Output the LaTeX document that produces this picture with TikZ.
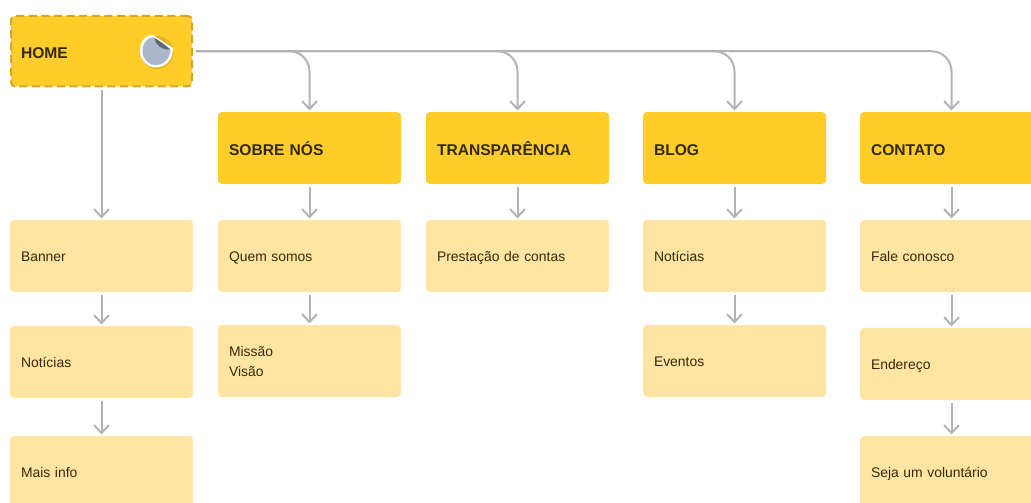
\documentclass[tikz,border=0pt]{standalone}
\usepackage{fontspec}
\setmainfont{Liberation Sans}
\usetikzlibrary{arrows.meta}
\definecolor{headfill}{HTML}{FFCD29}
\definecolor{itemfill}{HTML}{FFE5A1}
\definecolor{inkbrown}{HTML}{33290C}
\definecolor{linkgray}{HTML}{B3B3B3}
\definecolor{dashgold}{HTML}{D3A826}
\definecolor{stickerblue}{HTML}{ABB6CB}
\definecolor{stickerfold}{HTML}{5F6670}
\tikzset{
  box/.style={anchor=north west,minimum width=183pt,minimum height=72pt,text width=161pt,outer sep=0pt,
    inner xsep=11pt,inner ysep=0pt,align=left,rounded corners=4pt,text=inkbrown},
  head/.style={box,fill=headfill,font=\fontsize{15.6}{20}\selectfont\bfseries,
    execute at begin node=\rule[-3pt]{0pt}{20pt}},
  item/.style={box,fill=itemfill,font=\fontsize{13.9}{20}\selectfont,
    execute at begin node=\rule[-5pt]{0pt}{20pt},execute at end node=\rule[-3.6pt]{0pt}{3.6pt}},
  link/.style={draw=linkgray,line width=2pt,shorten <=2.5pt,shorten >=1.5pt,
    -{Straight Barb[length=8pt,width=15pt,line width=2pt]}},
}
\begin{document}
\begin{tikzpicture}[x=1pt,y=-1pt]
\useasboundingbox (0,0) rectangle (1031,503);
\clip (0,0) rectangle (1031,503);
% heads
\node[head,draw=dashgold,line width=2pt,dash pattern=on 8pt off 4.6pt,minimum width=181pt,minimum height=70.5pt,text width=161pt,inner xsep=10pt] (HOME) at (11,16) {HOME};
\foreach \n/\x/\t in {S/218/SOBRE NÓS,T/426/TRANSPARÊNCIA,B/643/BLOG,C/860/CONTATO} {
  \node[head] (\n0) at (\x,112) {\t};
  \draw[link,rounded corners=20pt,shorten <=4pt] (HOME.east) -| (\n0.north);
}
% items
\foreach \n/\x/\y/\t in {H1/10/220/Banner,H2/10/326/Notícias,H3/10/436/Mais info,
  S1/218/220/Quem somos,S2/218/325/Missão\\Visão,T1/426/220/Prestação de contas,
  B1/643/220/Notícias,B2/643/325/Eventos,
  C1/860/220/Fale conosco,C2/860/328/Endereço,C3/860/436/Seja um voluntário} {
  \node[item] (\n) at (\x,\y) {\t};
}
\draw[link,shorten <=3.5pt] (HOME) -- (H1);
\foreach \a/\b in {H1/H2,H2/H3,S0/S1,S1/S2,T0/T1,B0/B1,B1/B2,C0/C1,C1/C2,C2/C3} {
  \draw[link] (\a) -- (\b);
}
% sticker
\fill[black,opacity=0.12] (157,52.5) circle (16.5pt);
\fill[white] (153,35) .. controls (144,35) and (140,43) .. (140,51)
  .. controls (140,60) and (147,67.5) .. (156,67.5)
  .. controls (166,67.5) and (173.5,59) .. (172.8,48) -- cycle;
\fill[stickerblue] (153.5,37.5) .. controls (146,38) and (142.5,44) .. (142.5,51)
  .. controls (142.5,59) and (148,65) .. (156,65)
  .. controls (164,65) and (170.5,58) .. (170.3,49.5) -- cycle;
\fill[stickerfold] (154.5,38) .. controls (155,45) and (162,50) .. (170.5,49.5)
  .. controls (165,45) and (160,41) .. (154.5,38) -- cycle;
\end{tikzpicture}
\end{document}
